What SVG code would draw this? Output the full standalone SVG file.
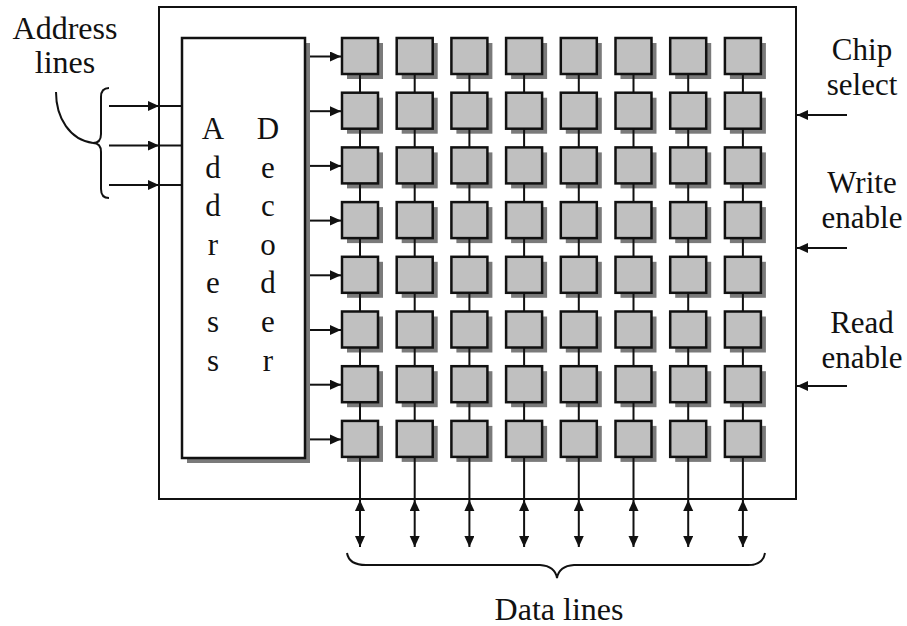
<svg xmlns="http://www.w3.org/2000/svg" xmlns:xlink="http://www.w3.org/1999/xlink" width="907" height="626" viewBox="0 0 907 626">
<style>
text{font-family:"Liberation Serif","Times New Roman",serif;font-size:32px;fill:#111;text-anchor:middle}
.dec text{font-size:31px}
.ctl text{font-size:31px}
.ln{stroke:#111;stroke-width:2;fill:none}
.arr{stroke:#111;stroke-width:2;fill:none;marker-end:url(#ah)}
.dbl{stroke:#111;stroke-width:2;fill:none;marker-end:url(#ah);marker-start:url(#ah)}
.cell{fill:#c0c0c0;stroke:#111;stroke-width:2.5}
.sh{fill:#7a7a7a}
.box{fill:#fff;stroke:#111;stroke-width:2.5}
.outer{fill:#fff;stroke:#111;stroke-width:2}
</style>
<defs>
<marker id="ah" markerUnits="userSpaceOnUse" markerWidth="12" markerHeight="11" refX="11" refY="5" orient="auto-start-reverse">
<path d="M0,0 L11,5 L0,10 z" fill="#111"/>
</marker>
<g id="c">
<rect class="sh" x="5" y="5" width="36" height="36"/>
<rect class="cell" x="0" y="0" width="36" height="36"/>
</g>
</defs>
<rect width="907" height="626" fill="#fff"/>
<g id="memory-chip">
<rect class="outer" x="159" y="7" width="637" height="492"/>
</g>
<g id="address-decoder" class="dec">
<rect class="sh" x="187" y="43" width="123" height="420"/>
<rect class="box" x="182" y="38" width="123" height="420"/>
<text x="213" y="139">A</text><text x="213" y="177.6">d</text><text x="213" y="216.2">d</text><text x="213" y="254.8">r</text><text x="213" y="293.4">e</text><text x="213" y="332">s</text><text x="213" y="370.6">s</text>
<text x="268" y="139">D</text><text x="268" y="177.6">e</text><text x="268" y="216.2">c</text><text x="268" y="254.8">o</text><text x="268" y="293.4">d</text><text x="268" y="332">e</text><text x="268" y="370.6">r</text>
</g>
<g id="cells">
<g id="cell-1-1"><use xlink:href="#c" x="342" y="38"/></g><g id="cell-1-2"><use xlink:href="#c" x="396.7" y="38"/></g><g id="cell-1-3"><use xlink:href="#c" x="451.4" y="38"/></g><g id="cell-1-4"><use xlink:href="#c" x="506.1" y="38"/></g><g id="cell-1-5"><use xlink:href="#c" x="560.8" y="38"/></g><g id="cell-1-6"><use xlink:href="#c" x="615.5" y="38"/></g><g id="cell-1-7"><use xlink:href="#c" x="670.2" y="38"/></g><g id="cell-1-8"><use xlink:href="#c" x="724.9" y="38"/></g>
<g id="cell-2-1"><use xlink:href="#c" x="342" y="92.7"/></g><g id="cell-2-2"><use xlink:href="#c" x="396.7" y="92.7"/></g><g id="cell-2-3"><use xlink:href="#c" x="451.4" y="92.7"/></g><g id="cell-2-4"><use xlink:href="#c" x="506.1" y="92.7"/></g><g id="cell-2-5"><use xlink:href="#c" x="560.8" y="92.7"/></g><g id="cell-2-6"><use xlink:href="#c" x="615.5" y="92.7"/></g><g id="cell-2-7"><use xlink:href="#c" x="670.2" y="92.7"/></g><g id="cell-2-8"><use xlink:href="#c" x="724.9" y="92.7"/></g>
<g id="cell-3-1"><use xlink:href="#c" x="342" y="147.4"/></g><g id="cell-3-2"><use xlink:href="#c" x="396.7" y="147.4"/></g><g id="cell-3-3"><use xlink:href="#c" x="451.4" y="147.4"/></g><g id="cell-3-4"><use xlink:href="#c" x="506.1" y="147.4"/></g><g id="cell-3-5"><use xlink:href="#c" x="560.8" y="147.4"/></g><g id="cell-3-6"><use xlink:href="#c" x="615.5" y="147.4"/></g><g id="cell-3-7"><use xlink:href="#c" x="670.2" y="147.4"/></g><g id="cell-3-8"><use xlink:href="#c" x="724.9" y="147.4"/></g>
<g id="cell-4-1"><use xlink:href="#c" x="342" y="202.1"/></g><g id="cell-4-2"><use xlink:href="#c" x="396.7" y="202.1"/></g><g id="cell-4-3"><use xlink:href="#c" x="451.4" y="202.1"/></g><g id="cell-4-4"><use xlink:href="#c" x="506.1" y="202.1"/></g><g id="cell-4-5"><use xlink:href="#c" x="560.8" y="202.1"/></g><g id="cell-4-6"><use xlink:href="#c" x="615.5" y="202.1"/></g><g id="cell-4-7"><use xlink:href="#c" x="670.2" y="202.1"/></g><g id="cell-4-8"><use xlink:href="#c" x="724.9" y="202.1"/></g>
<g id="cell-5-1"><use xlink:href="#c" x="342" y="256.8"/></g><g id="cell-5-2"><use xlink:href="#c" x="396.7" y="256.8"/></g><g id="cell-5-3"><use xlink:href="#c" x="451.4" y="256.8"/></g><g id="cell-5-4"><use xlink:href="#c" x="506.1" y="256.8"/></g><g id="cell-5-5"><use xlink:href="#c" x="560.8" y="256.8"/></g><g id="cell-5-6"><use xlink:href="#c" x="615.5" y="256.8"/></g><g id="cell-5-7"><use xlink:href="#c" x="670.2" y="256.8"/></g><g id="cell-5-8"><use xlink:href="#c" x="724.9" y="256.8"/></g>
<g id="cell-6-1"><use xlink:href="#c" x="342" y="311.5"/></g><g id="cell-6-2"><use xlink:href="#c" x="396.7" y="311.5"/></g><g id="cell-6-3"><use xlink:href="#c" x="451.4" y="311.5"/></g><g id="cell-6-4"><use xlink:href="#c" x="506.1" y="311.5"/></g><g id="cell-6-5"><use xlink:href="#c" x="560.8" y="311.5"/></g><g id="cell-6-6"><use xlink:href="#c" x="615.5" y="311.5"/></g><g id="cell-6-7"><use xlink:href="#c" x="670.2" y="311.5"/></g><g id="cell-6-8"><use xlink:href="#c" x="724.9" y="311.5"/></g>
<g id="cell-7-1"><use xlink:href="#c" x="342" y="366.2"/></g><g id="cell-7-2"><use xlink:href="#c" x="396.7" y="366.2"/></g><g id="cell-7-3"><use xlink:href="#c" x="451.4" y="366.2"/></g><g id="cell-7-4"><use xlink:href="#c" x="506.1" y="366.2"/></g><g id="cell-7-5"><use xlink:href="#c" x="560.8" y="366.2"/></g><g id="cell-7-6"><use xlink:href="#c" x="615.5" y="366.2"/></g><g id="cell-7-7"><use xlink:href="#c" x="670.2" y="366.2"/></g><g id="cell-7-8"><use xlink:href="#c" x="724.9" y="366.2"/></g>
<g id="cell-8-1"><use xlink:href="#c" x="342" y="420.9"/></g><g id="cell-8-2"><use xlink:href="#c" x="396.7" y="420.9"/></g><g id="cell-8-3"><use xlink:href="#c" x="451.4" y="420.9"/></g><g id="cell-8-4"><use xlink:href="#c" x="506.1" y="420.9"/></g><g id="cell-8-5"><use xlink:href="#c" x="560.8" y="420.9"/></g><g id="cell-8-6"><use xlink:href="#c" x="615.5" y="420.9"/></g><g id="cell-8-7"><use xlink:href="#c" x="670.2" y="420.9"/></g><g id="cell-8-8"><use xlink:href="#c" x="724.9" y="420.9"/></g>
</g>
<g id="connectors">
<!-- address line arrows -->
<line class="arr" x1="109" y1="106" x2="159" y2="106"/><line class="ln" x1="159" y1="106" x2="182" y2="106"/>
<line class="arr" x1="109" y1="145.5" x2="159" y2="145.5"/><line class="ln" x1="159" y1="145.5" x2="182" y2="145.5"/>
<line class="arr" x1="109" y1="185" x2="159" y2="185"/><line class="ln" x1="159" y1="185" x2="182" y2="185"/>
<!-- decoder word lines -->
<line class="arr" x1="310" y1="56.5" x2="341" y2="56.5"/>
<line class="arr" x1="310" y1="111.2" x2="341" y2="111.2"/>
<line class="arr" x1="310" y1="165.9" x2="341" y2="165.9"/>
<line class="arr" x1="310" y1="220.6" x2="341" y2="220.6"/>
<line class="arr" x1="310" y1="275.3" x2="341" y2="275.3"/>
<line class="arr" x1="310" y1="330" x2="341" y2="330"/>
<line class="arr" x1="310" y1="384.7" x2="341" y2="384.7"/>
<line class="arr" x1="310" y1="439.4" x2="341" y2="439.4"/>
<!-- bit lines -->
<path class="ln" d="M360,74V92.7M360,128.7V147.4M360,183.4V202.1M360,238.1V256.8M360,292.8V311.5M360,347.5V366.2M360,402.2V420.9M360,456.9V499"/>
<path class="ln" d="M414.7,74V92.7M414.7,128.7V147.4M414.7,183.4V202.1M414.7,238.1V256.8M414.7,292.8V311.5M414.7,347.5V366.2M414.7,402.2V420.9M414.7,456.9V499"/>
<path class="ln" d="M469.4,74V92.7M469.4,128.7V147.4M469.4,183.4V202.1M469.4,238.1V256.8M469.4,292.8V311.5M469.4,347.5V366.2M469.4,402.2V420.9M469.4,456.9V499"/>
<path class="ln" d="M524.1,74V92.7M524.1,128.7V147.4M524.1,183.4V202.1M524.1,238.1V256.8M524.1,292.8V311.5M524.1,347.5V366.2M524.1,402.2V420.9M524.1,456.9V499"/>
<path class="ln" d="M578.8,74V92.7M578.8,128.7V147.4M578.8,183.4V202.1M578.8,238.1V256.8M578.8,292.8V311.5M578.8,347.5V366.2M578.8,402.2V420.9M578.8,456.9V499"/>
<path class="ln" d="M633.5,74V92.7M633.5,128.7V147.4M633.5,183.4V202.1M633.5,238.1V256.8M633.5,292.8V311.5M633.5,347.5V366.2M633.5,402.2V420.9M633.5,456.9V499"/>
<path class="ln" d="M688.2,74V92.7M688.2,128.7V147.4M688.2,183.4V202.1M688.2,238.1V256.8M688.2,292.8V311.5M688.2,347.5V366.2M688.2,402.2V420.9M688.2,456.9V499"/>
<path class="ln" d="M742.9,74V92.7M742.9,128.7V147.4M742.9,183.4V202.1M742.9,238.1V256.8M742.9,292.8V311.5M742.9,347.5V366.2M742.9,402.2V420.9M742.9,456.9V499"/>
<!-- data lines -->
<line class="dbl" x1="360" y1="500" x2="360" y2="547"/>
<line class="dbl" x1="414.7" y1="500" x2="414.7" y2="547"/>
<line class="dbl" x1="469.4" y1="500" x2="469.4" y2="547"/>
<line class="dbl" x1="524.1" y1="500" x2="524.1" y2="547"/>
<line class="dbl" x1="578.8" y1="500" x2="578.8" y2="547"/>
<line class="dbl" x1="633.5" y1="500" x2="633.5" y2="547"/>
<line class="dbl" x1="688.2" y1="500" x2="688.2" y2="547"/>
<line class="dbl" x1="742.9" y1="500" x2="742.9" y2="547"/>
<!-- control inputs -->
<line class="arr" x1="847" y1="115" x2="797" y2="115"/>
<line class="arr" x1="847" y1="248" x2="797" y2="248"/>
<line class="arr" x1="847" y1="386" x2="797" y2="386"/>
</g>
<g id="address-lines-label">
<text x="65" y="39">Address</text>
<text x="65" y="73">lines</text>
<path class="ln" d="M109,88 Q101,88 101,97 L101,134 Q101,143 93,143 Q101,143 101,152 L101,189 Q101,198 109,198"/>
<path class="ln" d="M56,92 C56,118 70,140 93,143"/>
</g>
<g id="data-lines-label">
<path class="ln" d="M347,553 Q349,565 366,565 L540,565 Q555,566 557,578 Q559,566 574,565 L748,565 Q763,565 765,553"/>
<text x="559" y="620">Data lines</text>
</g>
<g id="control-labels" class="ctl">
<text x="862" y="60">Chip</text>
<text x="862" y="95">select</text>
<text x="862" y="193">Write</text>
<text x="862" y="228">enable</text>
<text x="862" y="333">Read</text>
<text x="862" y="368">enable</text>
</g>
</svg>
